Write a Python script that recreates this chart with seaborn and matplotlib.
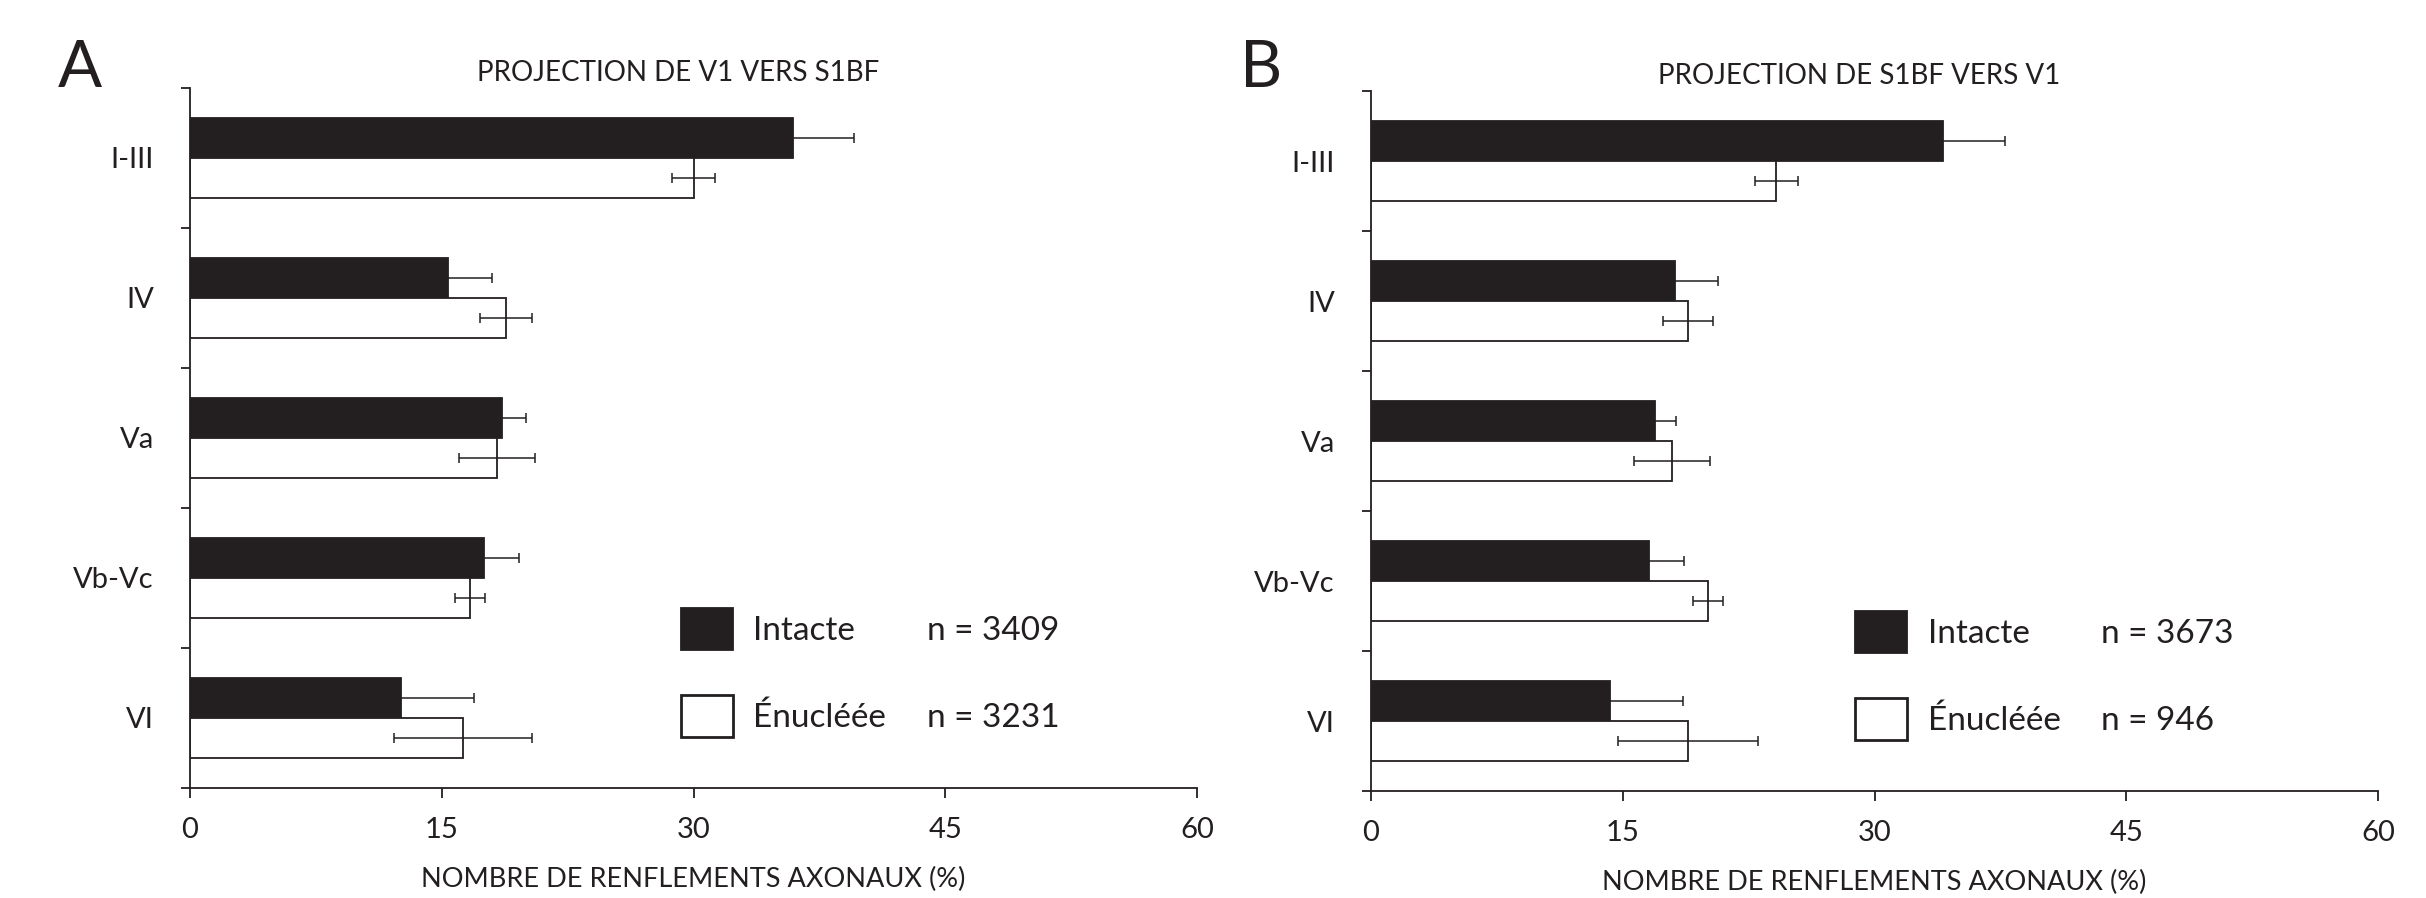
import numpy as np
import pandas as pd
import matplotlib
matplotlib.use("Agg")
import matplotlib.pyplot as plt
import seaborn as sns
from matplotlib.patches import Patch
from matplotlib.ticker import FixedLocator

# --- data ---
layers = ["I-III", "IV", "Va", "Vb-Vc", "VI"]
groups = ["Intacte", "Énucléée"]

# A: projection de V1 vers S1BF
a_intact = [35.9, 15.4, 18.6, 17.5, 12.6]
a_intact_err = [3.65, 2.6, 1.4, 2.1, 4.3]
a_enuc = [30.0, 18.8, 18.3, 16.7, 16.25]
a_enuc_err = [1.3, 1.55, 2.25, 0.9, 4.1]
a_n = [3409, 3231]

# B: projection de S1BF vers V1
b_intact = [34.1, 18.1, 16.9, 16.55, 14.25]
b_intact_err = [3.65, 2.6, 1.3, 2.1, 4.35]
b_enuc = [24.15, 18.9, 17.95, 20.1, 18.9]
b_enuc_err = [1.27, 1.5, 2.27, 0.9, 4.16]
b_n = [3673, 946]

xticks = [0, 15, 30, 45, 60]

BLACK = "#231F20"

sns.set_theme(style="ticks")
plt.rcParams["font.family"] = ["Lato", "DejaVu Sans"]
plt.rcParams["text.color"] = BLACK
plt.rcParams["axes.labelcolor"] = BLACK
plt.rcParams["xtick.color"] = BLACK
plt.rcParams["ytick.color"] = BLACK
plt.rcParams["axes.edgecolor"] = BLACK


def panel(ax, intact, intact_err, enuc, enuc_err, n, title, letter, letter_x, leg_x):
    df = pd.DataFrame({
        "couche": layers * 2,
        "val": intact + enuc,
        "groupe": [groups[0]] * len(layers) + [groups[1]] * len(layers),
    })
    sns.barplot(data=df, y="couche", x="val", hue="groupe", orient="h",
                palette=[BLACK, "white"], saturation=1, errorbar=None,
                width=0.575, edgecolor=BLACK, linewidth=1.3, legend=False, ax=ax)

    # error bars at bar ends
    for cont, err in zip(ax.containers, [intact_err, enuc_err]):
        ys = [b.get_y() + b.get_height() / 2 for b in cont]
        xs = [b.get_width() for b in cont]
        ax.errorbar(xs, ys, xerr=err, fmt="none", ecolor=BLACK,
                    elinewidth=1.1, capsize=3.3, capthick=1.1, zorder=5)

    ax.set_xlim(0, 60)
    ax.set_ylim(4.5, -0.5)
    ax.set_xticks(xticks)
    ax.yaxis.set_minor_locator(FixedLocator(np.arange(-0.5, 5, 1)))
    ax.tick_params(axis="y", which="major", length=0, pad=26, labelsize=21)
    ax.tick_params(axis="y", which="minor", length=6.5, width=1.3)
    ax.tick_params(axis="x", length=7, width=1.3, pad=14, labelsize=21)
    ax.set_ylabel("")
    ax.set_xlabel("NOMBRE DE RENFLEMENTS AXONAUX (%)", fontsize=19.5, labelpad=17)
    for s in ["left", "bottom"]:
        ax.spines[s].set_linewidth(1.3)
    sns.despine(ax=ax)

    ax.text(0.485, 1.01, title, transform=ax.transAxes, ha="center",
            va="baseline", fontsize=20)
    ax.figure.text(letter_x, 0.903, letter, fontsize=47, va="baseline")

    handles = [Patch(facecolor=BLACK, edgecolor=BLACK, linewidth=1.3),
               Patch(facecolor="white", edgecolor=BLACK, linewidth=2),
               Patch(facecolor="none", edgecolor="none"),
               Patch(facecolor="none", edgecolor="none")]
    labels = [groups[0], groups[1], f"n = {n[0]}", f"n = {n[1]}"]
    ax.legend(handles, labels, ncol=2, frameon=False, fontsize=24,
              handlelength=1.55, handleheight=1.55, handletextpad=0.62,
              labelspacing=1.35, columnspacing=-0.95, borderpad=0,
              borderaxespad=0, loc="upper left", bbox_to_anchor=(leg_x, 0.257))


fig = plt.figure(figsize=(24.26, 8.98), dpi=100)
ax_a = fig.add_axes([190 / 2426, 110 / 898, 1007 / 2426, 700 / 898])
ax_b = fig.add_axes([1371 / 2426, 107 / 898, 1007 / 2426, 700 / 898])

panel(ax_a, a_intact, a_intact_err, a_enuc, a_enuc_err, a_n,
      "PROJECTION DE V1 VERS S1BF", "A", 58 / 2426, 0.4876)
panel(ax_b, b_intact, b_intact_err, b_enuc, b_enuc_err, b_n,
      "PROJECTION DE S1BF VERS V1", "B", 1240 / 2426, 0.481)

fig.savefig("out.png", dpi=100)
